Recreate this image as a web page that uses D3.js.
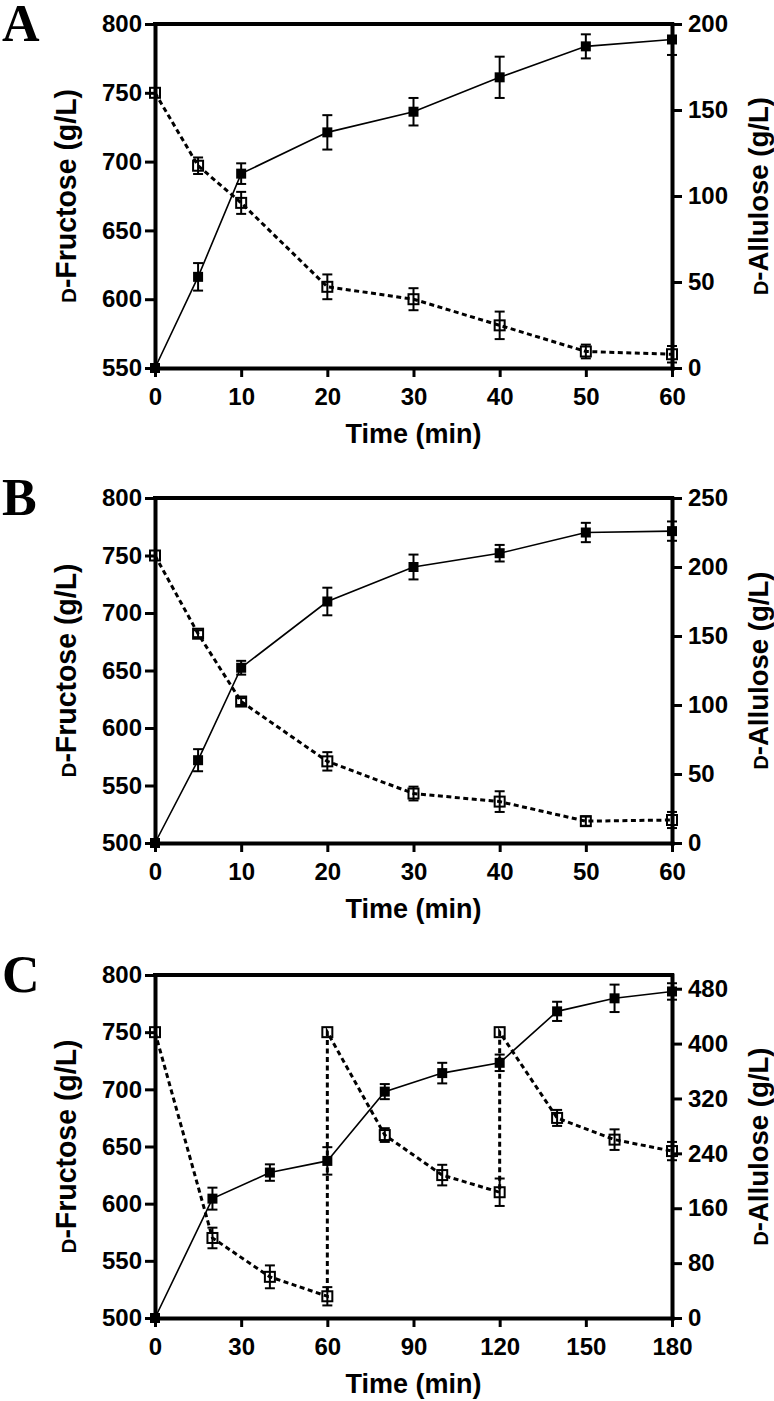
<!DOCTYPE html>
<html><head><meta charset="utf-8">
<script src="https://cdn.jsdelivr.net/npm/d3@7"></script>
<style>body{margin:0;background:#fff}</style>
</head><body>
<svg id="c" width="774" height="1401"></svg>
<script>
// ---- data ----
const timeAB = [0,5,10,20,30,40,50,60];
const fructoseA = [750,697,670,609,600,581,562,560];
const fructoseErrA = [0,6,8,9,8,10,5,6];
const alluloseA = [0,53,113,137,149,169,187,191];
const alluloseErrA = [0,8,6,10,8,12,7,9];

const fructoseB = [750,682,623,571,543,536,519,520];
const fructoseErrB = [0,3,3,8,6,9,4,7];
const alluloseB = [0,60,127,175,200,210,225,226];
const alluloseErrB = [0,8,5,10,9,6,7,7];

const timeCFructose = [0,20,40,60,60,80,100,120,120,140,160,180];
const fructoseC = [750,570,536,519,750,660,625,610,750,675,656,646];
const fructoseErrC = [0,9,10,8,0,6,9,12,0,7,9,8];
const timeCAllulose = [0,20,40,60,80,100,120,140,160,180];
const alluloseC = [0,174,212,229,330,357,372,447,466,476];
const alluloseErrC = [0,16,12,20,11,15,12,14,20,12];

const xTicksAB = [0,10,20,30,40,50,60];
const xTicksC = [0,30,60,90,120,150,180];
const leftTicksA = [550,600,650,700,750,800];
const rightTicksA = [0,50,100,150,200];
const leftTicksBC = [500,550,600,650,700,750,800];
const rightTicksB = [0,50,100,150,200,250];
const rightTicksC = [0,80,160,240,320,400,480];
const panelLetters = ["A","B","C"];
const xTitle = "Time (min)";
const leftTitle = ["D","-Fructose (g/L)"];
const rightTitle = ["D","-Allulose (g/L)"];

// ---- drawing ----
const svg = d3.select("#c");
const FONT = "'Liberation Sans', Arial, Helvetica, sans-serif";
const X0 = 155, X1 = 672;

const panels = [
  {letter:panelLetters[0], top:24, bottom:368, xDomain:[0,60], xTicks:xTicksAB,
   leftDomain:[550,800], leftTicks:leftTicksA, rightDomain:[0,200], rightTicks:rightTicksA,
   fx:timeAB, fy:fructoseA, fe:fructoseErrA, ax:timeAB, ay:alluloseA, ae:alluloseErrA},
  {letter:panelLetters[1], top:498, bottom:843, xDomain:[0,60], xTicks:xTicksAB,
   leftDomain:[500,800], leftTicks:leftTicksBC, rightDomain:[0,250], rightTicks:rightTicksB,
   fx:timeAB, fy:fructoseB, fe:fructoseErrB, ax:timeAB, ay:alluloseB, ae:alluloseErrB},
  {letter:panelLetters[2], top:975, bottom:1318, xDomain:[0,180], xTicks:xTicksC,
   leftDomain:[500,800], leftTicks:leftTicksBC, rightDomain:[0,500], rightTicks:rightTicksC,
   fx:timeCFructose, fy:fructoseC, fe:fructoseErrC, ax:timeCAllulose, ay:alluloseC, ae:alluloseErrC}
];

function styleAxis(g){
  g.select(".domain").attr("stroke","#000").attr("stroke-width",4).attr("stroke-linecap","square");
  g.selectAll(".tick line").attr("stroke","#000").attr("stroke-width",3);
  g.selectAll(".tick text").attr("fill","#000").style("font-family",FONT)
    .style("font-size","24px").style("font-weight","bold");
}

function drawSeries(g, x, y, xs, ys, es, filled){
  const pts = xs.map((t,i)=>({t, v:ys[i], e:es[i]}));
  const line = d3.line().x(d=>x(d.t)).y(d=>y(d.v));
  g.append("path").datum(pts).attr("d",line).attr("fill","none").attr("stroke","#000")
    .attr("stroke-width", filled?1.6:3).attr("stroke-dasharray", filled?null:"5,3.5");
  const eb = g.append("g");
  pts.filter(d=>d.e>0).forEach(d=>{
    const cx = x(d.t), y1 = y(d.v-d.e), y2 = y(d.v+d.e);
    eb.append("line").attr("x1",cx).attr("x2",cx).attr("y1",y1).attr("y2",y2);
    eb.append("line").attr("x1",cx-5).attr("x2",cx+5).attr("y1",y1).attr("y2",y1);
    eb.append("line").attr("x1",cx-5).attr("x2",cx+5).attr("y1",y2).attr("y2",y2);
  });
  eb.selectAll("line").attr("stroke","#000").attr("stroke-width",2);
  g.append("g").selectAll("rect").data(pts).join("rect")
    .attr("x",d=>x(d.t)-5).attr("y",d=>y(d.v)-5).attr("width",10).attr("height",10)
    .attr("fill", filled?"#000":"none").attr("stroke","#000").attr("stroke-width", filled?0:2);
}

panels.forEach(p=>{
  const g = svg.append("g");
  const x = d3.scaleLinear().domain(p.xDomain).range([X0,X1]);
  const yL = d3.scaleLinear().domain(p.leftDomain).range([p.bottom,p.top]);
  const yR = d3.scaleLinear().domain(p.rightDomain).range([p.bottom,p.top]);

  // top frame
  g.append("line").attr("x1",X0).attr("x2",X1).attr("y1",p.top).attr("y2",p.top)
    .attr("stroke","#000").attr("stroke-width",4).attr("stroke-linecap","square");

  g.append("g").attr("transform",`translate(${X0},0)`)
    .call(d3.axisLeft(yL).tickValues(p.leftTicks).tickSize(10).tickSizeOuter(0).tickPadding(3))
    .call(styleAxis);
  g.append("g").attr("transform",`translate(${X1},0)`)
    .call(d3.axisRight(yR).tickValues(p.rightTicks).tickSize(10).tickSizeOuter(0).tickPadding(6))
    .call(styleAxis);
  g.append("g").attr("transform",`translate(0,${p.bottom})`)
    .call(d3.axisBottom(x).tickValues(p.xTicks).tickSize(9).tickSizeOuter(0).tickPadding(11))
    .call(styleAxis);

  drawSeries(g, x, yL, p.fx, p.fy, p.fe, false);
  drawSeries(g, x, yR, p.ax, p.ay, p.ae, true);

  const cy = (p.top+p.bottom)/2;
  // x title
  g.append("text").attr("x",(X0+X1)/2).attr("y",p.bottom+74.5).attr("text-anchor","middle")
    .style("font-family",FONT).style("font-size","27px").style("font-weight","bold").text(xTitle);
  // left title
  const lt = g.append("text").attr("transform",`translate(76,${cy}) rotate(-90)`)
    .attr("text-anchor","middle").attr("textLength",214).attr("lengthAdjust","spacingAndGlyphs")
    .style("font-family",FONT).style("font-size","29px").style("font-weight","bold");
  lt.append("tspan").style("font-size","21px").text(leftTitle[0]);
  lt.append("tspan").text(leftTitle[1]);
  // right title
  const rt = g.append("text").attr("transform",`translate(768,${cy}) rotate(-90)`)
    .attr("text-anchor","middle").attr("textLength",198).attr("lengthAdjust","spacingAndGlyphs")
    .style("font-family",FONT).style("font-size","28px").style("font-weight","bold");
  rt.append("tspan").style("font-size","20px").text(rightTitle[0]);
  rt.append("tspan").text(rightTitle[1]);
  // panel letter
  g.append("text").attr("x",2).attr("y",p.top+17)
    .style("font-family","'Liberation Serif','Times New Roman',serif").style("font-size","52px")
    .style("font-weight","bold").text(p.letter);
});
</script>
</body></html>
